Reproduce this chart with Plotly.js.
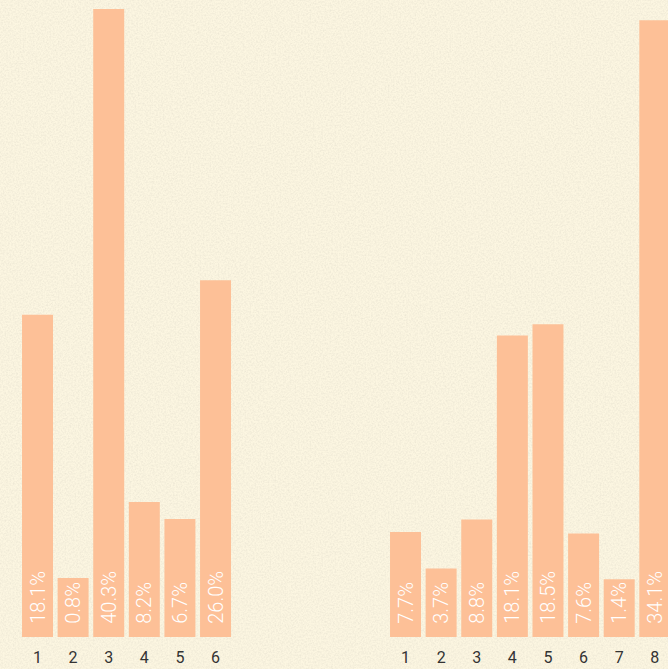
<!DOCTYPE html>
<html>
<head>
<meta charset="utf-8">
<script src="https://cdn.plot.ly/plotly-3.0.1.min.js"></script>
<style>
  html, body { margin: 0; padding: 0; overflow: hidden; }
  body {
    background-color: #fcf6e1;
    background-image: url("data:image/svg+xml;utf8,<svg xmlns='http://www.w3.org/2000/svg' width='700' height='700'><filter id='n'><feTurbulence type='fractalNoise' baseFrequency='0.6' numOctaves='3' seed='5'/><feColorMatrix values='0 0 0 0 0.45  0 0 0 0 0.43  0 0 0 0 0.38  0 0 0 0.35 -0.12'/></filter><rect width='700' height='700' filter='url(%23n)'/></svg>");
    background-repeat: no-repeat;
  }
  #chart { width: 668px; height: 669px; }
</style>
</head>
<body>
<div id="chart"></div>
<script>
// Left group
const leftCategories = ['1', '2', '3', '4', '5', '6'];
const leftValues = [51.3, 9.4, 100, 21.5, 18.8, 56.8];
const leftLabels = ['18.1%', '0.8%', '40.3%', '8.2%', '6.7%', '26.0%'];

// Right group
const rightCategories = ['1', '2', '3', '4', '5', '6', '7', '8'];
const rightValues = [16.7, 10.9, 18.7, 48.0, 49.8, 16.5, 9.2, 98.2];
const rightLabels = ['7.7%', '3.7%', '8.8%', '18.1%', '18.5%', '7.6%', '1.4%', '34.1%'];

const barColor = '#fdc097';
const textFont = { family: 'Roboto, "Open Sans", sans-serif', size: 20, color: '#ffffff', weight: 300 };

const common = {
  type: 'bar',
  marker: { color: barColor },
  textposition: 'inside',
  insidetextanchor: 'start',
  textangle: -90,
  constraintext: 'none',
  texttemplate: '\u2002%{text}',
  insidetextfont: textFont,
  hoverinfo: 'none',
  cliponaxis: true
};

const traces = [
  Object.assign({}, common, { x: leftCategories, y: leftValues, text: leftLabels, xaxis: 'x', yaxis: 'y' }),
  Object.assign({}, common, { x: rightCategories, y: rightValues, text: rightLabels, xaxis: 'x2', yaxis: 'y2' })
];

const axisFont = { family: 'Roboto, "Open Sans", sans-serif', size: 16, color: '#333333' };

const layout = {
  width: 668,
  height: 669,
  margin: { l: 0, r: 0, t: 9, b: 32 },
  paper_bgcolor: 'rgba(0,0,0,0)',
  plot_bgcolor: 'rgba(0,0,0,0)',
  showlegend: false,
  bargap: 0.13,
  xaxis: {
    domain: [0.0295, 0.3493],
    type: 'category',
    range: [-0.5, 5.5],
    showgrid: false, zeroline: false, showline: false,
    ticks: '', ticklabelstandoff: 9, tickfont: axisFont, fixedrange: true
  },
  yaxis: {
    range: [0, 100],
    visible: false, showgrid: false, zeroline: false, fixedrange: true
  },
  xaxis2: {
    domain: [0.5804, 1.0],
    type: 'category',
    range: [-0.5, 7.37],
    anchor: 'y2',
    showgrid: false, zeroline: false, showline: false,
    ticks: '', ticklabelstandoff: 9, tickfont: axisFont, fixedrange: true
  },
  yaxis2: {
    range: [0, 100],
    anchor: 'x2',
    visible: false, showgrid: false, zeroline: false, fixedrange: true
  }
};

Plotly.newPlot('chart', traces, layout, { displayModeBar: false, staticPlot: true });
</script>
</body>
</html>
